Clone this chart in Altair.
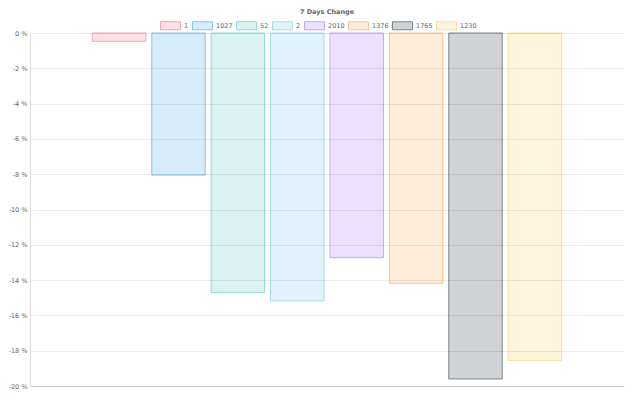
import altair as alt
import pandas as pd

series = ["1", "1027", "52", "2", "2010", "1376", "1765", "1230"]
values = [-0.47, -8.05, -14.71, -15.18, -12.73, -14.18, -19.6, -18.55]
fills = ["#ffe0e6", "#d7ecfb", "#dbf2f2", "#e1f3fa", "#ebe0ff", "#ffecd9", "#d1d4d7", "#fff5dd"]
strokes = ["#f7a3b5", "#86c4ee", "#8fd6d6", "#a9daf0", "#c2a6fb", "#fcc38f", "#7d848e", "#fcdd97"]
y_ticks = list(range(-20, 1, 2))

df = pd.DataFrame({"cat": ["7 Days Change"] * len(series), "series": series, "value": values})

FONT = "DejaVu Sans"
TXT = "#666666"
FS = 6.5

chart = (
    alt.Chart(df)
    .mark_bar(strokeWidth=1)
    .encode(
        x=alt.X("cat:N", axis=alt.Axis(labels=False, ticks=False, title=None, domainColor="#dddddd", grid=False),
                scale=alt.Scale(paddingInner=0, paddingOuter=0.125)),
        xOffset=alt.XOffset("series:N", sort=series,
                            scale=alt.Scale(paddingInner=0.1, paddingOuter=0.05)),
        y=alt.Y("value:Q", scale=alt.Scale(domain=[-20, 0], nice=False, zero=False),
                axis=alt.Axis(values=y_ticks, labelExpr="datum.value + ' %'", title=None,
                              ticks=False, labelPadding=3, labelFont=FONT, labelFontSize=FS,
                              labelColor=TXT, gridColor="#000000", gridOpacity=0.08,
                              domainColor="#dddddd", zindex=1)),
        color=alt.Color("series:N", sort=series, scale=alt.Scale(domain=series, range=fills),
                        legend=alt.Legend(title=None, orient="none", direction="horizontal",
                                          columns=8, legendX=130, legendY=-18,
                                          symbolType="M-1,-0.4H1V0.4H-1Z", symbolSize=400,
                                          symbolStrokeWidth=1, labelFont=FONT, labelFontSize=FS,
                                          labelColor=TXT, columnPadding=1, labelOffset=3)),
        stroke=alt.Stroke("series:N", sort=series, scale=alt.Scale(domain=series, range=strokes),
                          legend=None),
    )
    .properties(
        width=594,
        height=353,
        autosize=alt.AutoSizeParams(type="none"),
        padding={"left": 22, "top": 25, "right": 8, "bottom": 6},
        title=alt.TitleParams("7 Days Change", font=FONT, fontSize=FS, fontWeight="bold",
                              color=TXT, anchor="middle", offset=0),
    )
    .configure_view(stroke=None)
)

chart.save("out.html", embed_options={"renderer": "svg", "actions": False})
